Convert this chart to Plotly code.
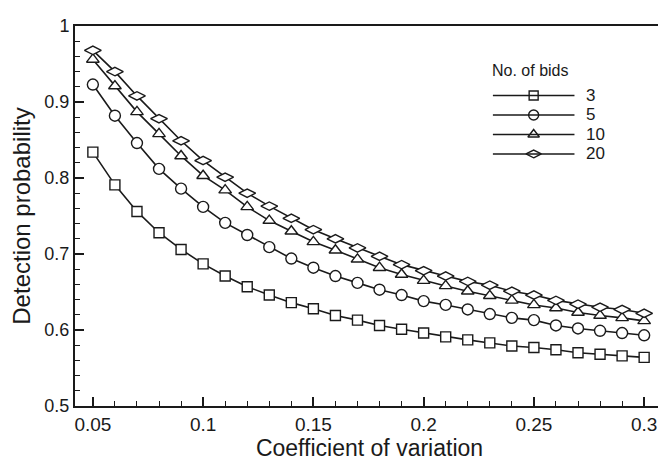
import plotly.graph_objects as go

cv = [0.05, 0.06, 0.07, 0.08, 0.09, 0.10, 0.11, 0.12, 0.13, 0.14, 0.15, 0.16, 0.17,
      0.18, 0.19, 0.20, 0.21, 0.22, 0.23, 0.24, 0.25, 0.26, 0.27, 0.28, 0.29, 0.30]

bids3 = [0.834, 0.791, 0.756, 0.728, 0.706, 0.687, 0.671, 0.657, 0.646, 0.636, 0.628, 0.619, 0.613,
         0.606, 0.601, 0.596, 0.591, 0.587, 0.583, 0.579, 0.577, 0.574, 0.570, 0.568, 0.566, 0.564]
bids5 = [0.923, 0.882, 0.846, 0.812, 0.786, 0.762, 0.741, 0.725, 0.709, 0.694, 0.682, 0.671, 0.662,
         0.653, 0.646, 0.638, 0.633, 0.627, 0.621, 0.616, 0.613, 0.606, 0.602, 0.599, 0.596, 0.593]
bids10 = [0.956, 0.921, 0.887, 0.858, 0.829, 0.803, 0.784, 0.762, 0.744, 0.730, 0.716, 0.705, 0.693,
          0.682, 0.673, 0.665, 0.658, 0.651, 0.645, 0.639, 0.633, 0.629, 0.623, 0.619, 0.616, 0.612]
bids20 = [0.968, 0.940, 0.908, 0.878, 0.849, 0.823, 0.801, 0.780, 0.763, 0.747, 0.732, 0.720, 0.708,
          0.697, 0.686, 0.678, 0.671, 0.664, 0.659, 0.651, 0.646, 0.639, 0.634, 0.630, 0.627, 0.622]

series_names = ["3", "5", "10", "20"]
series_vals = [bids3, bids5, bids10, bids20]
legend_title = "No. of bids"

x_tickvals = [0.05, 0.1, 0.15, 0.2, 0.25, 0.3]
x_ticktext = ["0.05", "0.1", "0.15", "0.2", "0.25", "0.3"]
y_tickvals = [0.5, 0.6, 0.7, 0.8, 0.9, 1.0]
y_ticktext = ["0.5", "0.6", "0.7", "0.8", "0.9", "1"]

symbols = ["square", "circle", "triangle-up", "diamond-wide"]
sizes = [10, 11, 11, 12]

FONT = "Liberation Sans, Arial, Helvetica, sans-serif"
INK = "#1a1a1a"

fig = go.Figure()
for name, vals, sym, sz in zip(series_names, series_vals, symbols, sizes):
    fig.add_trace(go.Scatter(
        x=cv, y=vals, name=name, mode="lines+markers", showlegend=False,
        line=dict(color=INK, width=1.6),
        marker=dict(symbol=sym, size=sz, color="white",
                    line=dict(color=INK, width=1.4)),
    ))

# hand-drawn legend (long line with centred marker, as in the reference)
leg_x0, leg_x1, leg_xm, leg_xt = 0.7095, 0.848, 0.7787, 0.865
leg_y_top, leg_dy = 0.8172, 0.0513
for i, (name, sym, sz) in enumerate(zip(series_names, symbols, sizes)):
    yy = leg_y_top - i * leg_dy
    fig.add_shape(type="line", xref="x domain", yref="y domain",
                  x0=leg_x0, x1=leg_x1, y0=yy, y1=yy,
                  line=dict(color=INK, width=1.6))
    fig.add_trace(go.Scatter(
        x=[leg_xm], y=[yy], xaxis="x2", yaxis="y2", mode="markers",
        showlegend=False, hoverinfo="skip",
        marker=dict(symbol=sym, size=sz - 1, color="white",
                    line=dict(color=INK, width=1.4)),
    ))
    fig.add_annotation(xref="x domain", yref="y domain", x=leg_xt, y=yy,
                       text=name, showarrow=False, xanchor="left", yanchor="middle",
                       font=dict(family=FONT, size=17, color=INK))
fig.add_annotation(xref="x domain", yref="y domain", x=0.704, y=0.882,
                   text=legend_title, showarrow=False, xanchor="left", yanchor="middle",
                   font=dict(family=FONT, size=16, color=INK))

axis_common = dict(
    showgrid=False, zeroline=False, showline=True, mirror=True,
    linecolor=INK, linewidth=2, ticks="inside", tickcolor=INK,
    tickwidth=1.5, ticklen=9,
)

fig.update_xaxes(
    range=[0.0419, 0.309], tickvals=x_tickvals, ticktext=x_ticktext,
    tickfont=dict(family=FONT, size=19, color=INK),
    minor=dict(dtick=0.01, tick0=0.0, ticks="inside", ticklen=5, tickcolor=INK, tickwidth=1.2),
    title=dict(text="Coefficient of variation", font=dict(family=FONT, size=23, color=INK), standoff=5),
    **axis_common,
)
fig.update_yaxes(
    range=[0.5, 1.0], tickvals=y_tickvals, ticktext=y_ticktext,
    tickfont=dict(family=FONT, size=18, color=INK),
    minor=dict(dtick=0.02, tick0=0.0, ticks="inside", ticklen=5, tickcolor=INK, tickwidth=1.2),
    title=dict(text="Detection probability", font=dict(family=FONT, size=24, color=INK), standoff=12),
    **axis_common,
)

fig.update_layout(
    xaxis2=dict(overlaying="x", range=[0, 1], visible=False, fixedrange=True),
    yaxis2=dict(overlaying="y", range=[0, 1], visible=False, fixedrange=True),
    width=666, height=464,
    margin=dict(l=65, r=9, t=8, b=66),
    plot_bgcolor="white", paper_bgcolor="white",
    font=dict(family=FONT, color=INK),
    showlegend=False,
)

fig.write_html("out.html")
